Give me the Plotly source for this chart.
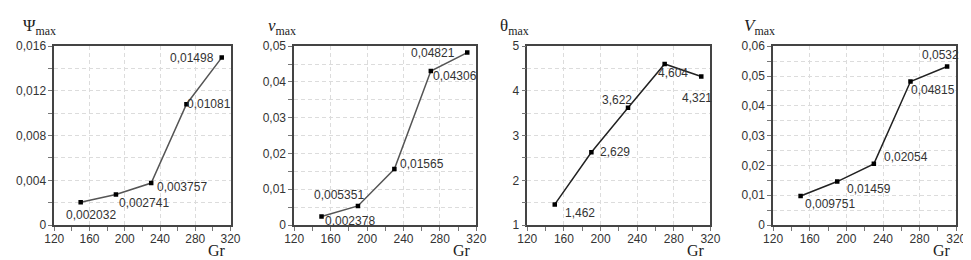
import plotly.graph_objects as go

W, H = 971, 260

gr = [150, 190, 230, 270, 310]
psi_max = [0.002032, 0.002741, 0.003757, 0.01081, 0.01498]
v_max = [0.002378, 0.005351, 0.01565, 0.04306, 0.04821]
theta_max = [1.462, 2.629, 3.622, 4.604, 4.321]
V_max = [0.009751, 0.01459, 0.02054, 0.04815, 0.0532]

psi_labels = ["0,002032", "0,002741", "0,003757", "0,01081", "0,01498"]
v_labels = ["0,002378", "0,005351", "0,01565", "0,04306", "0,04821"]
theta_labels = ["1,462", "2,629", "3,622", "4,604", "4,321"]
V_labels = ["0,009751", "0,01459", "0,02054", "0,04815", "0,0532"]

x_ticks = [120, 160, 200, 240, 280, 320]
psi_ticks = [0, 0.004, 0.008, 0.012, 0.016]
psi_ticktext = ["0", "0,004", "0,008", "0,012", "0,016"]
v_ticks = [0, 0.01, 0.02, 0.03, 0.04, 0.05]
v_ticktext = ["0", "0,01", "0,02", "0,03", "0,04", "0,05"]
theta_ticks = [1, 2, 3, 4, 5]
theta_ticktext = ["1", "2", "3", "4", "5"]
V_ticks = [0, 0.01, 0.02, 0.03, 0.04, 0.05, 0.06]
V_ticktext = ["0", "0,01", "0,02", "0,03", "0,04", "0,05", "0,06"]

# label offsets (pixels) relative to each point
psi_off = [(10, -13), (28, -9), (31, -4), (23, 0), (-30, 0)]
v_off = [(28, -4), (-19, 11), (28, 5), (24, -5), (-34, 0)]
theta_off = [(25, -9), (24, 0), (-11, 8), (8, -9), (-4, -21)]
V_off = [(29, -8), (32, -7), (32, 7), (23, -8), (-7, 11)]

panels = [
    dict(y=psi_max, labels=psi_labels, off=psi_off, ticks=psi_ticks, ticktext=psi_ticktext,
         yrange=[0, 0.016], minor=0.002, px=(37, 217), title="Ψ<sub>max</sub>", lc="#555"),
    dict(y=v_max, labels=v_labels, off=v_off, ticks=v_ticks, ticktext=v_ticktext,
         yrange=[0, 0.05], minor=0.005, px=(282, 468), title="<i>v</i><sub>max</sub>", lc="#555"),
    dict(y=theta_max, labels=theta_labels, off=theta_off, ticks=theta_ticks, ticktext=theta_ticktext,
         yrange=[1, 5], minor=0.5, px=(520, 707), title="θ<sub>max</sub>", lc="#222"),
    dict(y=V_max, labels=V_labels, off=V_off, ticks=V_ticks, ticktext=V_ticktext,
         yrange=[0, 0.06], minor=0.005, px=(771, 958), title="<i>V</i><sub>max</sub>", lc="#222"),
]

top_px, bot_px = 33, 222
ydom = [(H - bot_px) / H, (H - top_px) / H]

fig = go.Figure()
annotations = []
tickfont = dict(family="Liberation Sans, Arial, sans-serif", size=12, color="#333")
serif = "Liberation Serif, Times New Roman, serif"
gridc = "#dcdcdc"

for i, p in enumerate(panels, start=1):
    xa = "x" if i == 1 else f"x{i}"
    ya = "y" if i == 1 else f"y{i}"
    fig.add_trace(go.Scatter(
        x=gr, y=p["y"], mode="lines+markers", xaxis=xa, yaxis=ya,
        line=dict(color=p["lc"], width=1.5),
        marker=dict(symbol="square", size=4.5, color="#000"),
        showlegend=False, hoverinfo="skip"))
    axis_common = dict(showline=True, mirror=True, linecolor="#444", linewidth=1.5,
                       ticks="outside", ticklen=4, tickcolor="#777", tickfont=tickfont,
                       zeroline=False, showgrid=True, gridcolor=gridc, griddash="4px,3px",
                       gridwidth=1)
    xkey = "xaxis" if i == 1 else f"xaxis{i}"
    ykey = "yaxis" if i == 1 else f"yaxis{i}"
    fig.update_layout(**{
        xkey: dict(axis_common, domain=[p["px"][0] / W, p["px"][1] / W], range=[120, 320],
                   tickvals=x_ticks, anchor=ya, ticklen=2,
                   minor=dict(dtick=20, tick0=120, ticks="outside", ticklen=4, tickcolor="#777",
                              showgrid=False)),
        ykey: dict(axis_common, domain=ydom, range=p["yrange"], tickvals=p["ticks"],
                   ticktext=p["ticktext"], anchor=xa,
                   minor=dict(dtick=p["minor"], tick0=p["yrange"][0], ticks="outside", ticklen=4,
                              tickcolor="#777", showgrid=True, gridcolor=gridc,
                              griddash="4px,3px")),
    })
    for xv, yv, txt, (dx, dy) in zip(gr, p["y"], p["labels"], p["off"]):
        annotations.append(dict(x=xv, y=yv, xref=xa, yref=ya, text=txt, showarrow=False,
                                xshift=dx, yshift=dy, font=tickfont))
    annotations.append(dict(x=0, y=1, xref=f"{xa} domain", yref=f"{ya} domain",
                            text=p["title"], showarrow=False, xanchor="right", yanchor="bottom",
                            xshift=4, yshift=6, font=dict(family=serif, size=17, color="#222")))
    annotations.append(dict(x=1, y=0, xref=f"{xa} domain", yref="paper",
                            text="Gr", showarrow=False, xanchor="right", yanchor="bottom",
                            xshift=-3, yshift=0, font=dict(family=serif, size=16, color="#222")))

fig.update_layout(width=W, height=H, margin=dict(l=0, r=0, t=0, b=0),
                  paper_bgcolor="white", plot_bgcolor="white", annotations=annotations)
fig.write_html("out.html")
